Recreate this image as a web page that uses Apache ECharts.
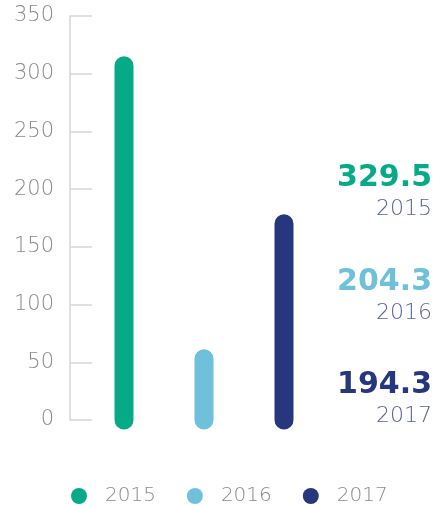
<!DOCTYPE html>
<html>
<head>
<meta charset="utf-8">
<script src="https://cdn.jsdelivr.net/npm/echarts@6/dist/echarts.min.js"></script>
<style>
  html, body { margin: 0; padding: 0; background: #fff; }
  #chart { width: 443px; height: 506px; }
</style>
</head>
<body>
<div id="chart"></div>
<script>
// Years shown as bars and in the legend
const years = ['2015', '2016', '2017'];
// Bar heights on the value axis
const barValues = [307, 53, 170];
// Headline totals printed beside the chart
const totals = ['329.5', '204.3', '194.3'];
// Value axis ticks
const yTicks = [0, 50, 100, 150, 200, 250, 300, 350];

const colors = ['#07aa87', '#6fc0da', '#27377e'];
const thinFont = "'DejaVu Sans', sans-serif";

const chart = echarts.init(document.getElementById('chart'));

const series = years.map((y, i) => ({
  name: y,
  type: 'custom',
  itemStyle: { color: colors[i] },
  encode: { x: 0, y: 1 },
  data: [[y, barValues[i]]],
  renderItem: (params, api) => {
    const base = api.coord([api.value(0), 0]);
    const top = api.coord([api.value(0), api.value(1)]);
    return {
      type: 'line',
      shape: { x1: base[0], y1: base[1], x2: top[0], y2: top[1] },
      style: { stroke: colors[i], lineWidth: 19, lineCap: 'round' }
    };
  }
}));

// Side annotations: total in bold colour, year beneath it
const graphics = [];
const sideTop = [167, 271, 374];
totals.forEach((t, i) => {
  graphics.push({
    type: 'text', right: 11, top: sideTop[i] - 4,
    style: { text: t, fill: colors[i], font: "bold 30px 'DejaVu Sans', sans-serif", textAlign: 'right' }
  });
  graphics.push({
    type: 'text', right: 11, top: sideTop[i] + 31,
    style: { text: years[i], fill: '#5a60a6', font: "200 22px 'DejaVu Sans', sans-serif", textAlign: 'right' }
  });
});

chart.setOption({
  animation: false,
  grid: { left: 84, width: 240, top: 16, height: 404 },
  xAxis: {
    type: 'category',
    data: years,
    show: false
  },
  yAxis: {
    type: 'value',
    min: 0, max: 350, interval: 50,
    offset: 14,
    axisLine: { show: true, lineStyle: { color: '#d6d6d6', width: 1.5 } },
    axisTick: { show: true, inside: true, length: 22, lineStyle: { color: '#d6d6d6', width: 1.5 } },
    splitLine: { show: false },
    axisLabel: {
      margin: 16,
      color: '#8a8a8a',
      fontSize: 21,
      fontWeight: 200,
      fontFamily: thinFont,
      padding: [4, 0, 0, 0],
      formatter: v => (yTicks.includes(v) ? String(v) : '')
    }
  },
  legend: {
    data: years,
    top: 481,
    left: 66,
    icon: 'circle',
    itemWidth: 16,
    itemHeight: 16,
    itemGap: 31,
    textStyle: { color: '#8a8a8a', fontSize: 20, fontWeight: 200, fontFamily: thinFont, padding: [0, 0, 0, 13] }
  },
  graphic: graphics,
  series: series
});
</script>
</body>
</html>
